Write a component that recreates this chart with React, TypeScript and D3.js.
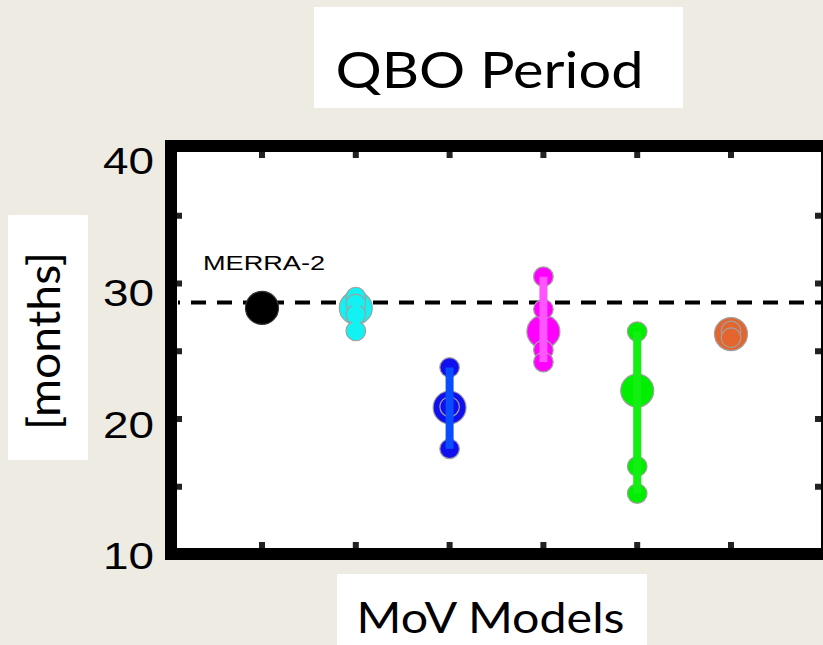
import React from "react";
import * as d3 from "d3";

// Ensemble groups along the x axis (first one is the reanalysis)
const categories = ["MERRA-2", "groupA", "groupB", "groupC", "groupD", "groupE"];
// Ensemble centre value per group [months]
const centreValues = [28.2, 28.2, 20.85, 26.45, 22.1, 26.27];
// Individual ensemble members per group [months]
const memberValues: number[][] = [
  [],
  [29.0, 28.5, 27.7, 26.5],
  [23.8, 20.9, 17.8],
  [30.5, 28.1, 25.1, 24.2],
  [26.45, 16.5, 14.5],
  [26.5, 26.0],
];
// Reanalysis reference period drawn as dashed line
const referenceValue = 28.6;
const yTickLabels = [10, 20, 30, 40];
const yMinorTicks = [15, 20, 25, 30, 35];

const fillColors = ["#000000", "#12f2f2", "#1010ee", "#ff00ff", "#00ee00", "#e5652e"];
const lineColors = ["#000000", "#12f2f2", "#0a4cff", "#ff55ff", "#11f011", "#e5652e"];

const W = 823;
const H = 645;

export default function App() {
  const x = d3.scalePoint<string>().domain(categories).range([262, 731]);
  const y = d3.scaleLinear().domain([10, 40]).range([554.5, 148]);
  // tick labels sit on a slightly different vertical spread than the ticks
  const yLabel = d3.scaleLinear().domain([10, 40]).range([556, 161]);

  const frame = { left: 171, top: 146, right: 827, bottom: 554 };
  const inner = { left: 177, top: 152, right: 821, bottom: 548 };
  const tick = 6;
  const outline = "#a0a0a0";

  return (
    <svg
      width={W}
      height={H}
      style={{ position: "absolute", left: 0, top: 0, display: "block" }}
    >
      <rect x={0} y={0} width={W} height={H} fill="#eeebe3" />

      {/* title */}
      <rect x={314} y={7} width={369} height={101} fill="#ffffff" />
      <text
        x={489.5}
        y={88}
        textAnchor="middle"
        fontFamily="Lato, 'Open Sans', sans-serif"
        fontSize={50}
        textLength={308}
        lengthAdjust="spacingAndGlyphs"
        fill="#000"
      >
        QBO Period
      </text>

      {/* y axis title */}
      <rect x={8} y={215} width={80} height={245} fill="#ffffff" />
      <text
        transform="translate(60,341) rotate(-90)"
        textAnchor="middle"
        fontFamily="Lato, 'Open Sans', sans-serif"
        fontSize={44}
        textLength={178}
        lengthAdjust="spacingAndGlyphs"
        fill="#000"
      >
        [months]
      </text>

      {/* x axis title */}
      <rect x={337} y={574} width={310} height={80} fill="#ffffff" />
      <text
        x={490.5}
        y={633}
        textAnchor="middle"
        fontFamily="Lato, 'Open Sans', sans-serif"
        fontSize={43}
        textLength={268}
        lengthAdjust="spacingAndGlyphs"
        fill="#000"
      >
        MoV Models
      </text>

      {/* plot area */}
      <rect
        x={frame.left}
        y={frame.top}
        width={frame.right - frame.left}
        height={frame.bottom - frame.top}
        fill="#ffffff"
      />

      {/* ticks */}
      <g fill="#222">
        {categories.map((c) => (
          <g key={"xt" + c}>
            <rect x={(x(c) as number) - 3} y={inner.top} width={6} height={tick} />
            <rect x={(x(c) as number) - 3} y={inner.bottom - tick} width={6} height={tick} />
          </g>
        ))}
        {yMinorTicks.map((v) => (
          <g key={"yt" + v}>
            <rect x={inner.left} y={y(v) - 3} width={5} height={6} />
            <rect x={inner.right - tick} y={y(v) - 3} width={tick} height={6} />
          </g>
        ))}
      </g>

      {/* reference line */}
      <line
        x1={inner.left + 1}
        x2={W}
        y1={y(referenceValue)}
        y2={y(referenceValue)}
        stroke="#000"
        strokeWidth={4}
        strokeDasharray="15 11"
        strokeDashoffset={13}
      />

      {/* ensembles */}
      {categories.map((c, i) => {
        const cx = x(c) as number;
        const members = memberValues[i];
        const ext = d3.extent(members) as [number, number];
        return (
          <g key={"s" + c}>
            <circle
              cx={cx}
              cy={y(centreValues[i])}
              r={16.5}
              fill={fillColors[i]}
              stroke={i === 0 ? "#333" : outline}
              strokeWidth={1.2}
            />
            {members.map((v, j) => (
              <circle
                key={j}
                cx={cx}
                cy={y(v)}
                r={9.8}
                fill={fillColors[i]}
                stroke={outline}
                strokeWidth={1.2}
              />
            ))}
            {members.length > 1 && (
              <line
                x1={cx}
                x2={cx}
                y1={y(ext[1])}
                y2={y(ext[0])}
                stroke={lineColors[i]}
                strokeWidth={8}
              />
            )}
          </g>
        );
      })}

      <text
        x={203}
        y={270}
        fontFamily="'Liberation Sans', Arial, sans-serif"
        fontSize={21}
        textLength={122}
        lengthAdjust="spacingAndGlyphs"
        fill="#000"
      >
        MERRA-2
      </text>

      {/* frame */}
      <rect
        x={frame.left}
        y={frame.top}
        width={frame.right - frame.left}
        height={frame.bottom - frame.top}
        fill="none"
        stroke="#000"
        strokeWidth={12}
      />

      {/* y tick labels */}
      {yTickLabels.map((v) => (
        <text
          key={"yl" + v}
          x={154}
          y={yLabel(v)}
          dy="0.36em"
          textAnchor="end"
          fontFamily="'Liberation Sans', Arial, sans-serif"
          fontSize={37}
          textLength={51}
          lengthAdjust="spacingAndGlyphs"
          fill="#000"
        >
          {v}
        </text>
      ))}
    </svg>
  );
}
